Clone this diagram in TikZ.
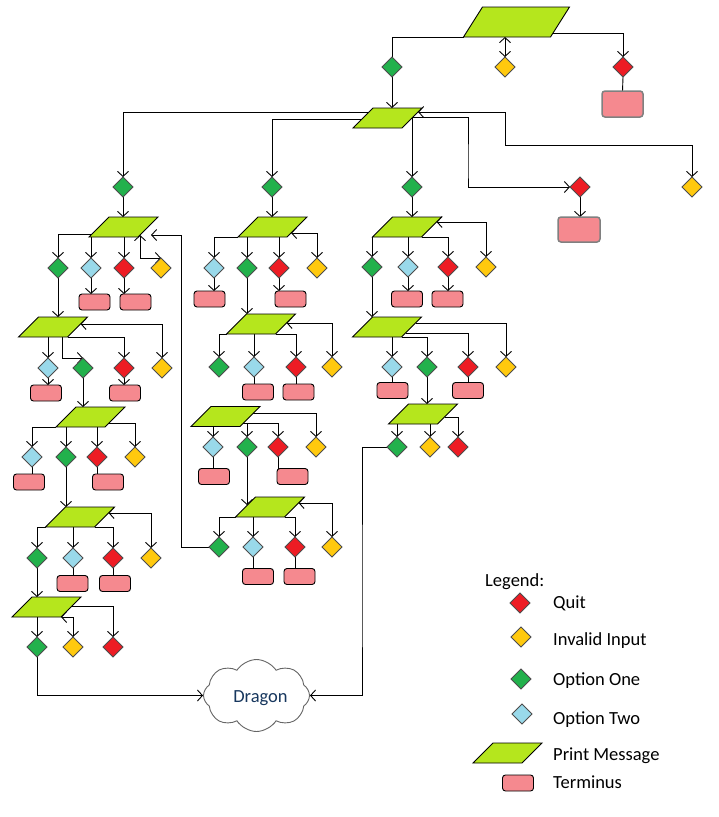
\documentclass[tikz,border=0pt]{standalone}
\usepackage{fontspec}
\setmainfont{Carlito}
\usetikzlibrary{arrows.meta, shapes.geometric, shapes.symbols, calc, backgrounds}
\definecolor{cpm}{HTML}{B5E61D}
\definecolor{cgreen}{HTML}{22B14C}
\definecolor{cblue}{HTML}{99D9EA}
\definecolor{cred}{HTML}{ED1C24}
\definecolor{cyellow}{HTML}{FFC90E}
\definecolor{cterm}{HTML}{F5898F}
\definecolor{cdrag}{HTML}{17375E}
\newcommand{\legfont}{\fontsize{18.5pt}{22pt}\selectfont}
\tikzset{
  ln/.style={draw=black, line width=0.9pt},
  ar/.style={ln, -{Straight Barb[length=5pt,width=11pt]}},
  da/.style={ln, {Straight Barb[length=5pt,width=11pt]}-{Straight Barb[length=5pt,width=11pt]}},
  dia/.style={diamond, minimum width=20pt, minimum height=20pt, inner sep=0pt, outer sep=0pt, draw=black!70, line width=0.9pt},
  dg/.style={dia, fill=cgreen},
  db/.style={dia, fill=cblue},
  dr/.style={dia, fill=cred},
  dy/.style={dia, fill=cyellow},
  pmbase/.style={rectangle, inner sep=0pt, outer sep=0pt, fill=cpm, draw=black, line width=0.9pt},
  pms/.style={pmbase, xslant=1, minimum width=49pt, minimum height=20pt},
  tm/.style={rectangle, rounded corners=3pt, minimum width=31pt, minimum height=16pt, inner sep=0pt, outer sep=0pt, fill=cterm, draw=black, line width=0.9pt},
  tmbig/.style={tm, minimum width=41pt, minimum height=26pt, draw=black!50, line width=1.5pt},
  lbl/.style={anchor=base west, inner sep=0pt, font=\legfont, text=black}
}
\begin{document}
\begin{tikzpicture}[x=1pt, y=-1pt]
\useasboundingbox (0,0) rectangle (718,817);
% ---------- top ----------
\node[pmbase, xslant=0.633, minimum width=87pt, minimum height=30pt] (P0) at (516.5,22) {};
\node[dg] (G0) at (392,67) {};
\node[dy] (Y0) at (505,67) {};
\node[dr] (R0) at (623,67) {};
\node[tmbig] (T0) at (622.5,104) {};
\node[pms] (P1) at (387.5,118) {};
\node[dg] (GA) at (123,187) {};
\node[dg] (GB) at (272,187) {};
\node[dg] (GC) at (412,187) {};
\node[dr] (R1) at (580,187) {};
\node[tmbig, minimum width=42pt, minimum height=25pt] (T1) at (579,229.5) {};
\node[dy] (Y1) at (692,187) {};
% ---------- column A ----------
\node[pms] (P2) at (123.5,227) {};
\node[dg] (A1g) at (58,268) {};
\node[db] (A1b) at (91,268) {};
\node[dr] (A1r) at (124,268) {};
\node[dy] (A1y) at (161,268) {};
\node[tm] (A1bt) at (94.5,302) {};
\node[tm] (A1rt) at (135.5,302) {};
\node[pms] (P5) at (53,327) {};
\node[db] (A2b) at (48,368) {};
\node[dg] (A2g) at (83,368) {};
\node[dr] (A2r) at (124,368) {};
\node[dy] (A2y) at (162,368) {};
\node[tm] (A2bt) at (46,393) {};
\node[tm] (A2rt) at (125,393) {};
\node[pms] (P6) at (90.5,417) {};
\node[db] (A3b) at (32,457) {};
\node[dg] (A3g) at (66,457) {};
\node[dr] (A3r) at (97,457) {};
\node[dy] (A3y) at (135,457) {};
\node[tm] (A3bt) at (29,482) {};
\node[tm] (A3rt) at (108,482) {};
\node[pms] (P7) at (80,517) {};
\node[dg] (A4g) at (37,558) {};
\node[db] (A4b) at (73,558) {};
\node[dr] (A4r) at (113,558) {};
\node[dy] (A4y) at (151,558) {};
\node[tm] (A4bt) at (72.5,583.5) {};
\node[tm] (A4rt) at (115,583.5) {};
\node[pms] (P8) at (46.5,607) {};
\node[dg] (A5g) at (37,647) {};
\node[dy] (A5y) at (73,647) {};
\node[dr] (A5r) at (113,647) {};
% ---------- column B ----------
\node[pms] (P3) at (272.5,227) {};
\node[db] (B1b) at (214,268) {};
\node[dg] (B1g) at (247,268) {};
\node[dr] (B1r) at (279,268) {};
\node[dy] (B1y) at (317,268) {};
\node[tm] (B1bt) at (209.5,299) {};
\node[tm] (B1rt) at (290.5,299) {};
\node[pms] (P9) at (261,324) {};
\node[dg] (B2g) at (219,367) {};
\node[db] (B2b) at (254,367) {};
\node[dr] (B2r) at (296,367) {};
\node[dy] (B2y) at (332,367) {};
\node[tm] (B2bt) at (258,392) {};
\node[tm] (B2rt) at (298.5,392) {};
\node[pms] (P10) at (225.5,416.5) {};
\node[db] (B3b) at (213,447) {};
\node[dg] (B3g) at (247,447) {};
\node[dr] (B3r) at (278,447) {};
\node[dy] (B3y) at (316,447) {};
\node[tm] (B3bt) at (214,476.5) {};
\node[tm] (B3rt) at (292.5,476.5) {};
\node[pms] (P11) at (270,507) {};
\node[dg] (B4g) at (219,547) {};
\node[db] (B4b) at (253,547) {};
\node[dr] (B4r) at (295,547) {};
\node[dy] (B4y) at (332,547) {};
\node[tm] (B4bt) at (258,576.5) {};
\node[tm] (B4rt) at (299.5,576.5) {};
% ---------- column C ----------
\node[pms] (P4) at (407,227) {};
\node[dg] (C1g) at (372,267) {};
\node[db] (C1b) at (408,267) {};
\node[dr] (C1r) at (448,267) {};
\node[dy] (C1y) at (486,267) {};
\node[tm] (C1bt) at (407,299) {};
\node[tm] (C1rt) at (447.5,299) {};
\node[pms] (P12) at (387,327) {};
\node[db] (C2b) at (392,367) {};
\node[dg] (C2g) at (427,367) {};
\node[dr] (C2r) at (468,367) {};
\node[dy] (C2y) at (506,367) {};
\node[tm] (C2bt) at (392.5,390.5) {};
\node[tm] (C2rt) at (468,390.5) {};
\node[pms] (P13) at (423,414) {};
\node[dg] (C3g) at (397,447) {};
\node[dy] (C3y) at (430,447) {};
\node[dr] (C3r) at (458,447) {};
% ---------- dragon ----------
\node[cloud, cloud puffs=8, cloud puff arc=115, aspect=1.45, draw=black!60, fill=white, line width=0.9pt, minimum width=106pt, minimum height=72pt, inner sep=0pt] (Dragon) at (256.5,695.5) {};
\node[anchor=base, inner sep=0pt, font=\legfont, text=cdrag] (DragonText) at (260.5,702) {Dragon};
% ---------- legend ----------
\node[lbl] (Lh) at (485,586) {Legend:};
\node[dr] (LQ) at (520,603) {};
\node[lbl] (LQt) at (553,608) {Quit};
\node[dy] (LI) at (521,637) {};
\node[lbl] (LIt) at (553,645) {Invalid Input};
\node[dg] (LO) at (521,679) {};
\node[lbl] (LOt) at (553,685) {Option One};
\node[db] (LT) at (522,714) {};
\node[lbl] (LTt) at (553,724) {Option Two};
\node[pms] (LP) at (507.5,753) {};
\node[lbl] (LPt) at (553,760) {Print Message};
\node[tm] (LM) at (518,783) {};
\node[lbl] (LMt) at (553,788) {Terminus};
% ---------- bend points ----------
\coordinate (kR1) at (468,170);
\coordinate (kY1) at (505,145);
\coordinate (kL) at (181,235);
\coordinate (kLend) at (151,235);
\coordinate (kD) at (362,600);
% ---------- connectors ----------
\begin{scope}[on background layer]
\fill[white] (0,0) rectangle (718,817);
% top
\draw[ln] (P0.south west) -| (G0.north);
\draw[ar] (G0.south) -- (G0.south |- P1.north);
\draw[da] (Y0.north |- P0.south) -- (Y0.north);
\draw[ar] ($(P0.north east)!0.87!(P0.south east)$) -| (R0.north);
\draw[ln] (R0.south) -- (T0.north);
\draw[ar] ($(P1.north west)!0.2!(P1.south west)$) -| (GA.north);
\draw[ar] ($(P1.north west)!0.55!(P1.south west)$) -| (GB.north);
\draw[ar] (GC.north |- P1.east) -- (GC.north);
\draw[ar] ($(P1.north east)!0.45!(P1.south east)$) -| (kR1) |- (R1.west);
\draw[ar] (R1.south) -- (R1.south |- T1.north);
\draw[da] ($(P1.north east)!0.2!(P1.south east)$) -| (kY1) -| (Y1.north);
% column A
\draw[ar] (GA.south) -- (GA.south |- P2.north);
\draw[ar] ($(P2.north west)!0.85!(P2.south west)$) -| (A1g.north);
\draw[ar] (A1b.north |- P2.south) -- (A1b.north);
\draw[ar] (A1r.north |- P2.south) -- (A1r.north);
\draw[da] ($(P2.north east)!0.9!(P2.south east)$) |- (A1y.north);
\draw[ar] (A1b.south) -- (A1b.south |- A1bt.north);
\draw[ar] (A1r.south) -- (A1r.south |- A1rt.north);
\draw[ar] (A1g.south) -- (A1g.south |- P5.north);
\draw[ar] (A2b.north |- P5.south) -- (A2b.north);
\draw[ar] ($(P5.south west)!0.9!(P5.south east)$) |- (A2g.north);
\draw[ar] (P5.south east) -| (A2r.north);
\draw[da] ($(P5.north east)!0.35!(P5.south east)$) -| (A2y.north);
\draw[ar] (A2b.south) -- (A2b.south |- A2bt.north);
\draw[ar] (A2r.south) -- (A2r.south |- A2rt.north);
\draw[ar] (A2g.south) -- (A2g.south |- P6.north);
\draw[ar] (P6.south west) -| (A3b.north);
\draw[ar] (A3g.north |- P6.south) -- (A3g.north);
\draw[ar] (A3r.north |- P6.south) -- (A3r.north);
\draw[ar] ($(P6.north east)!0.8!(P6.south east)$) -| (A3y.north);
\draw[ln] (A3b.south) -- (A3b.south |- A3bt.north);
\draw[ln] (A3r.south) -- (A3r.south |- A3rt.north);
\draw[ar] (A3g.south) -- (A3g.south |- P7.north);
\draw[ar] (P7.south west) -| (A4g.north);
\draw[ar] (A4b.north |- P7.south) -- (A4b.north);
\draw[ar] (P7.south east) -| (A4r.north);
\draw[da] ($(P7.north east)!0.3!(P7.south east)$) -| (A4y.north);
\draw[ln] (A4b.south) -- (A4b.south |- A4bt.north);
\draw[ln] (A4r.south) -- (A4r.south |- A4rt.north);
\draw[ar] (A4g.south) -- (A4g.south |- P8.north);
\draw[ar] (A5g.north |- P8.south) -- (A5g.north);
\draw[da] (P8.south east) -| (A5y.north);
\draw[ar] ($(P8.north east)!0.45!(P8.south east)$) -| (A5r.north);
\draw[ar] (A5g.south) |- (Dragon.west);
% column B
\draw[ar] (GB.south) -- (GB.south |- P3.north);
\draw[ar] (P3.south west) -| (B1b.north);
\draw[ar] (B1g.north |- P3.south) -- (B1g.north);
\draw[ar] (B1r.north |- P3.south) -- (B1r.north);
\draw[da] ($(P3.north east)!0.8!(P3.south east)$) -| (B1y.north);
\draw[ar] (B1b.south) -- (B1b.south |- B1bt.north);
\draw[ar] (B1r.south) -- (B1r.south |- B1rt.north);
\draw[ar] (B1g.south) -- (B1g.south |- P9.north);
\draw[ar] (P9.south west) -| (B2g.north);
\draw[ar] (B2b.north |- P9.south) -- (B2b.north);
\draw[ar] (P9.south east) -| (B2r.north);
\draw[da] ($(P9.north east)!0.45!(P9.south east)$) -| (B2y.north);
\draw[ln] (B2b.south) -- (B2b.south |- B2bt.north);
\draw[ln] (B2r.south) -- (B2r.south |- B2rt.north);
\draw[ar] (B3b.north |- P10.south) -- (B3b.north);
\draw[ar] ($(P10.north east)!0.85!(P10.south east)$) coordinate (kB3) -| (B3r.north);
\draw[ar] (B3g.north |- kB3) -- (B3g.north);
\draw[ar] ($(P10.north east)!0.35!(P10.south east)$) -| (B3y.north);
\draw[ln] (B3b.south) -- (B3b.south |- B3bt.north);
\draw[ln] (B3r.south) -- (B3r.south |- B3rt.north);
\path ($(P11.north west)!0.4!(P11.south west)$) coordinate (kP11);
\draw[ar] (B3g.south) -- (B3g.south |- kP11);
\draw[ar] (P11.south west) -| (B4g.north);
\draw[ar] (B4b.north |- P11.south) -- (B4b.north);
\draw[ar] (P11.south east) -| (B4r.north);
\draw[da] ($(P11.north east)!0.3!(P11.south east)$) -| (B4y.north);
\draw[ln] (B4b.south) -- (B4b.south |- B4bt.north);
\draw[ln] (B4r.south) -- (B4r.south |- B4rt.north);
\draw[ar] (B4g.west) -| (kL) -- (kLend);
% column C
\draw[ar] (GC.south) -- (GC.south |- P4.north);
\draw[ar] (C1g.north |- P4.south) -- (C1g.north);
\draw[ar] (C1b.north |- P4.south) -- (C1b.north);
\draw[ar] (P4.south east) -| (C1r.north);
\draw[da] ($(P4.north east)!0.25!(P4.south east)$) -| (C1y.north);
\draw[ar] (C1b.south) -- (C1b.south |- C1bt.north);
\draw[ar] (C1r.south) -- (C1r.south |- C1rt.north);
\draw[ar] (C1g.south) -- (C1g.south |- P12.north);
\draw[ar] (C2b.north |- P12.south) -- (C2b.north);
\draw[ar] (P12.south east) -| (C2g.north);
\draw[ar] ($(P12.north east)!0.8!(P12.south east)$) -| (C2r.north);
\draw[ar] ($(P12.north east)!0.3!(P12.south east)$) -| (C2y.north);
\draw[ln] (C2b.south) -- (C2b.south |- C2bt.north);
\draw[ln] (C2r.south) -- (C2r.south |- C2rt.north);
\draw[ar] (C2g.south) -- (C2g.south |- P13.north);
\draw[ar] (C3g.north |- P13.south) -- (C3g.north);
\draw[ar] (C3y.north |- P13.south) -- (C3y.north);
\draw[ar] ($(P13.north east)!0.65!(P13.south east)$) -| (C3r.north);
\draw[ar] (C3g.west) -| (kD) |- (Dragon.east);
\end{scope}
\end{tikzpicture}
\end{document}
